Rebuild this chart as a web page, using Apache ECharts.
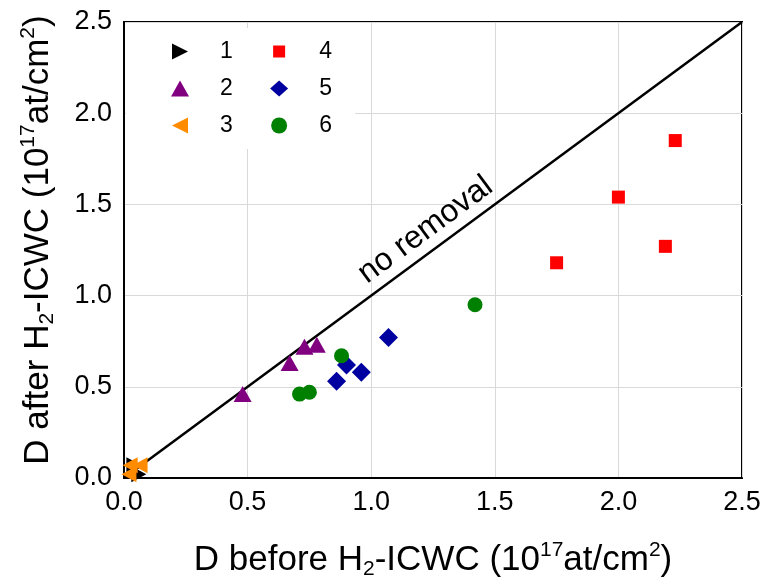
<!DOCTYPE html>
<html>
<head>
<meta charset="utf-8">
<script src="https://cdn.jsdelivr.net/npm/echarts@6/dist/echarts.min.js"></script>
<style>html,body{margin:0;padding:0;background:#fff;}#c{width:766px;height:585px;}</style>
</head>
<body>
<div id="c"></div>
<script>
// Data
const seriesNames = ['1', '2', '3', '4', '5', '6'];
const data1 = [[0.04, 0.07], [0.06, 0.02]];
const data2 = [[0.48, 0.46], [0.67, 0.63], [0.73, 0.72], [0.78, 0.73]];
const data3 = [[0.025, 0.07], [0.065, 0.07], [0.02, 0.02]];
const data4 = [[1.75, 1.18], [2.00, 1.54], [2.19, 1.27], [2.23, 1.85]];
const data5 = [[0.86, 0.53], [0.90, 0.62], [0.96, 0.58], [1.07, 0.77]];
const data6 = [[0.71, 0.46], [0.75, 0.47], [0.88, 0.67], [1.42, 0.95]];
const diagonal = [[0, 0], [2.5, 2.5]];
const xTicks = [0, 0.5, 1.0, 1.5, 2.0, 2.5];
const yTicks = [0, 0.5, 1.0, 1.5, 2.0, 2.5];
const annotation = 'no removal';
const annotationAt = [1.22, 1.36];

const FONT = '"Liberation Sans", Arial, sans-serif';
const chart = echarts.init(document.getElementById('c'), null, {renderer: 'canvas'});

const rich = {
  sub: {fontSize: 21, fontFamily: FONT, color: '#000', verticalAlign: 'bottom', lineHeight: 16},
  sup: {fontSize: 21, fontFamily: FONT, color: '#000', verticalAlign: 'top', lineHeight: 16}
};
const xNameStyle = {fontSize: 35, fontFamily: FONT, color: '#000', lineHeight: 40, rich: rich};
const yNameStyle = {fontSize: 35, fontFamily: FONT, color: '#000', lineHeight: 40, rich: rich, padding: [0, 0, 0, 20]};

const RIGHT_TRI = 'path://M0,0L10,5L0,10Z';
const LEFT_TRI = 'path://M10,0L0,5L10,10Z';
const LEG_RECT = 'path://M0,0M3,2h12v12h-12zM18,16';
const C = {s1: '#000000', s2: '#800080', s3: '#ff8c00', s4: '#ff0000', s5: '#0000a0', s6: '#008000'};

chart.setOption({
  animation: false,
  backgroundColor: '#fff',
  grid: {left: 124, top: 22, right: 24, bottom: 107, show: true, borderColor: '#000', borderWidth: 2, backgroundColor: 'transparent', containLabel: false},
  xAxis: {
    type: 'value', min: xTicks[0], max: xTicks[xTicks.length - 1], interval: 0.5,
    name: 'D before H{sub|2}-ICWC (10{sup|17}at/cm{sup|2})',
    nameLocation: 'middle', nameGap: 62, nameTextStyle: xNameStyle,
    axisLine: {show: true, lineStyle: {color: '#000', width: 2}},
    axisTick: {show: false},
    axisLabel: {fontSize: 27, fontFamily: FONT, color: '#000', margin: 11, formatter: v => v.toFixed(1)},
    splitLine: {show: true, lineStyle: {color: '#d9d9d9', width: 1}}
  },
  yAxis: {
    type: 'value', min: yTicks[0], max: yTicks[yTicks.length - 1], interval: 0.5,
    name: 'D after H{sub|2}-ICWC (10{sup|17}at/cm{sup|2})',
    nameLocation: 'middle', nameGap: 66, nameTextStyle: yNameStyle,
    axisLine: {show: true, lineStyle: {color: '#000', width: 2}},
    axisTick: {show: false},
    axisLabel: {fontSize: 27, fontFamily: FONT, color: '#000', margin: 12, formatter: v => v.toFixed(1)},
    splitLine: {show: true, lineStyle: {color: '#d9d9d9', width: 1}}
  },
  legend: {
    orient: 'vertical', left: 126, top: 28, height: 110,
    padding: [12, 0, 12, 45],
    backgroundColor: '#fff',
    itemWidth: 18, itemHeight: 16, itemGap: 14,
    textStyle: {fontSize: 23, fontFamily: FONT, color: '#000',
      rich: {g: {width: 26}, t: {fontSize: 23, fontFamily: FONT, color: '#000'}, e: {fontSize: 21, fontFamily: FONT}}},
    formatter: n => '{g|}{t|' + n + '}{e|    }',
    data: [
      {name: '1'}, {name: '2'}, {name: '3'},
      {name: '4', icon: LEG_RECT}, {name: '5'}, {name: '6'}
    ]
  },
  series: [
    {type: 'line', data: diagonal, symbol: 'none', silent: true, z: 1,
     lineStyle: {color: '#000', width: 2.5},
     markPoint: {symbol: 'circle', symbolSize: 0, silent: true,
       label: {show: true, position: 'inside', rotate: 36.4, fontSize: 32, fontFamily: FONT, color: '#000', formatter: annotation},
       data: [{coord: annotationAt}]}},
    {name: seriesNames[0], type: 'scatter', data: data1, symbol: RIGHT_TRI, symbolSize: [15, 16], itemStyle: {color: C.s1, opacity: 1}, z: 3},
    {name: seriesNames[1], type: 'scatter', data: data2, symbol: 'triangle', symbolSize: [18, 16], itemStyle: {color: C.s2, opacity: 1}, z: 3},
    {name: seriesNames[2], type: 'scatter', data: data3, symbol: LEFT_TRI, symbolSize: [15, 16], itemStyle: {color: C.s3, opacity: 1}, z: 4},
    {name: seriesNames[3], type: 'scatter', data: data4, symbol: 'rect', symbolSize: 13, itemStyle: {color: C.s4, opacity: 1}, z: 3},
    {name: seriesNames[4], type: 'scatter', data: data5, symbol: 'diamond', symbolSize: 19, itemStyle: {color: C.s5, opacity: 1}, z: 3},
    {name: seriesNames[5], type: 'scatter', data: data6, symbol: 'circle', symbolSize: 15, itemStyle: {color: C.s6, opacity: 1}, z: 3}
  ]
});
</script>
</body>
</html>
